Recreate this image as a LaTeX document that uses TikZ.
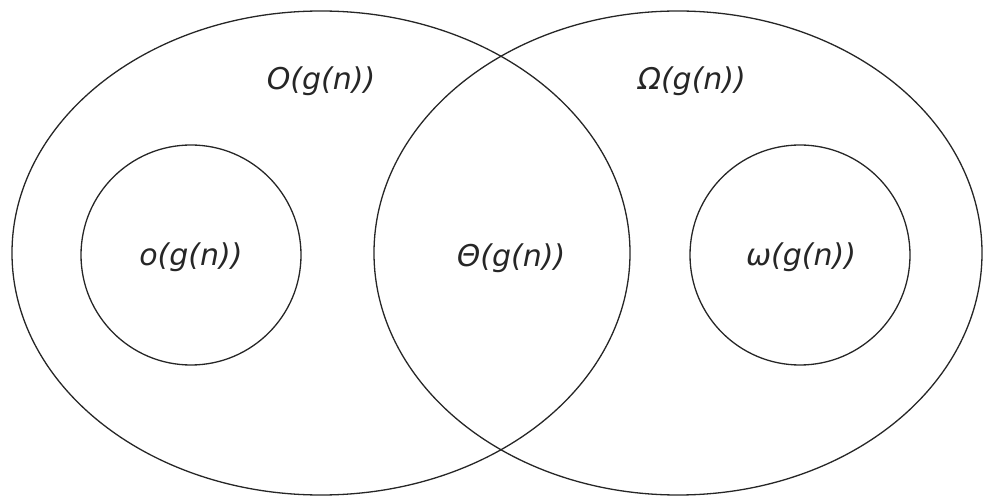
\documentclass[tikz,border=0pt]{standalone}
\usepackage{fontspec}
\setmainfont{DejaVu Sans}
\usetikzlibrary{shapes.geometric}
\begin{document}
\begin{tikzpicture}[x=1pt,y=-1pt,
  setline/.style={draw=black!85, line width=1.3pt},
  lbl/.style={font=\fontsize{30}{30}\selectfont\itshape, text=black!85, anchor=base, inner sep=0pt}]
\useasboundingbox (0,0) rectangle (986,497);
\draw[setline] (321,253) ellipse [x radius=309, y radius=242];
\draw[setline] (678,253) ellipse [x radius=304, y radius=242];
\draw[setline] (191,255) circle [radius=110];
\draw[setline] (800,255) circle [radius=110];
\node[lbl] (bigO) at (321,90) {O(g(n))};
\node[lbl] (bigOmega) at (692,90) {Ω(g(n))};
\node[lbl] (smallo) at (191,266) {o(g(n))};
\node[lbl] (theta) at (511,267) {Θ(g(n))};
\node[lbl] (smallomega) at (801,266) {ω(g(n))};
\end{tikzpicture}
\end{document}
